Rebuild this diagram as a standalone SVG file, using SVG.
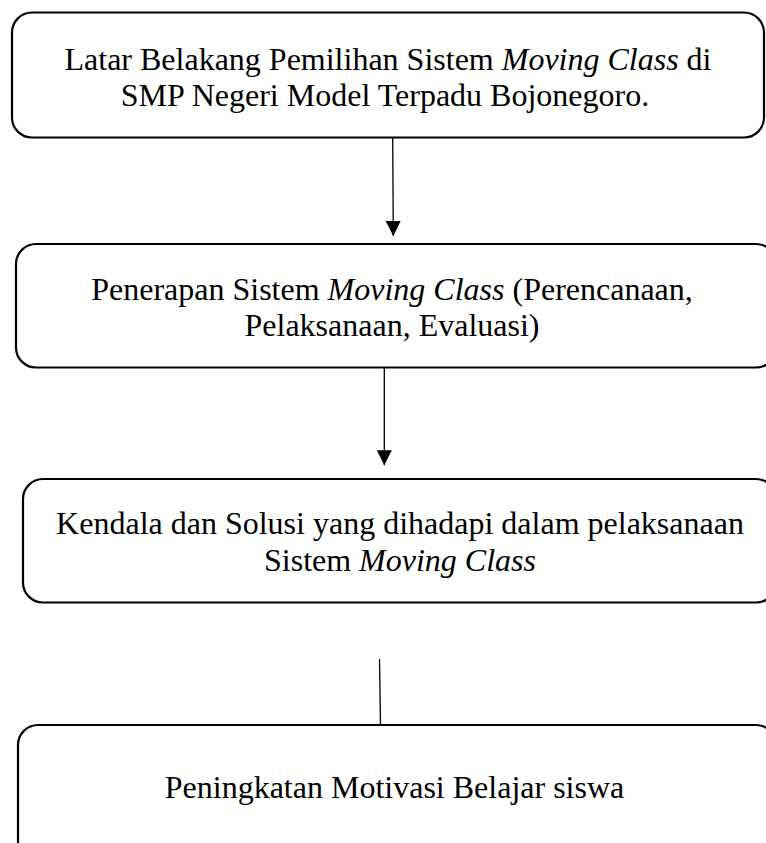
<svg xmlns="http://www.w3.org/2000/svg" width="766" height="843" viewBox="0 0 766 843">
<defs>
<style>
.box{fill:#fff;stroke:#000;stroke-width:2.2}
.t{font-family:"Liberation Serif","Times New Roman",serif;font-size:32px;fill:#000;text-anchor:middle}
.i{font-style:italic}
.c{stroke:#000;stroke-width:1.3;fill:none}
</style>
<marker id="ah" markerUnits="userSpaceOnUse" markerWidth="16" markerHeight="16" viewBox="0 0 16 16" refX="15" refY="8" orient="auto">
<path d="M0,0.5 L15,8 L0,15.5 Z" fill="#000"/>
</marker>
</defs>
<rect width="766" height="843" fill="#fff"/>
<g id="node1">
<rect class="box" x="12" y="12.5" width="752" height="125" rx="20"/>
<text class="t" x="388" y="70">Latar Belakang Pemilihan Sistem <tspan class="i">Moving Class</tspan> di</text>
<text class="t" x="385" y="106">SMP Negeri Model Terpadu Bojonegoro.</text>
</g>
<g id="node2">
<rect class="box" x="16" y="244" width="760" height="123.5" rx="20"/>
<text class="t" x="392" y="299.5">Penerapan Sistem <tspan class="i">Moving Class</tspan> (Perencanaan,</text>
<text class="t" x="392" y="335.5">Pelaksanaan, Evaluasi)</text>
</g>
<g id="node3">
<rect class="box" x="23" y="479" width="753" height="123.5" rx="20"/>
<text class="t" x="400" y="534">Kendala dan Solusi yang dihadapi dalam pelaksanaan</text>
<text class="t" x="400" y="570.5">Sistem <tspan class="i">Moving Class</tspan></text>
</g>
<g id="node4">
<rect class="box" x="18" y="725" width="758" height="140" rx="20"/>
<text class="t" x="394.5" y="798">Peningkatan Motivasi Belajar siswa</text>
</g>
<g id="connectors">
<line class="c" x1="392.7" y1="137.5" x2="393.3" y2="236" marker-end="url(#ah)"/>
<line class="c" x1="384.3" y1="367.5" x2="384.3" y2="465.3" marker-end="url(#ah)"/>
<line class="c" x1="379.5" y1="659" x2="380.5" y2="725"/>
</g>
</svg>
